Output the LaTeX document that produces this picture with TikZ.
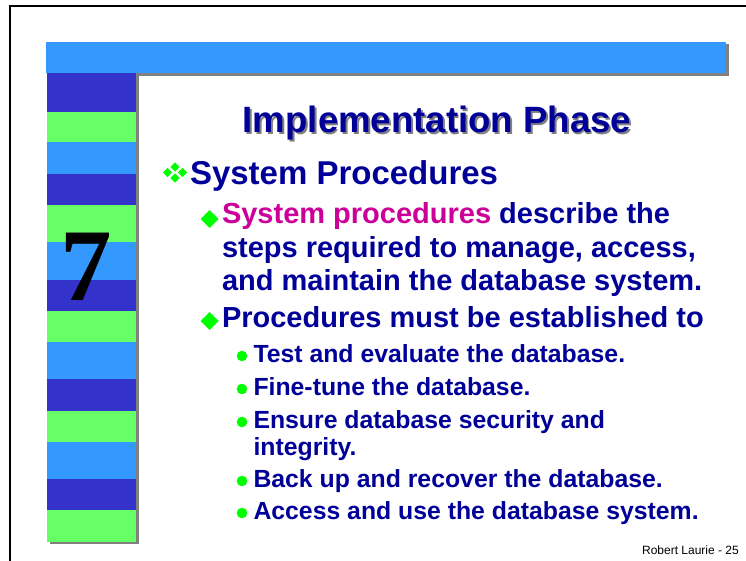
\documentclass[tikz,border=0pt]{standalone}
\usepackage{fontspec}
\usetikzlibrary{calc}
\setmainfont{Liberation Sans}
\newfontfamily\numfont{Liberation Serif}
\definecolor{darkstripe}{HTML}{3333CC}
\definecolor{greenstripe}{HTML}{66FF66}
\definecolor{lightstripe}{HTML}{3399FF}
\definecolor{navytext}{HTML}{000099}
\definecolor{magentatext}{HTML}{CC0099}
\definecolor{bulletgreen}{HTML}{00FF00}
\definecolor{shadowgray}{HTML}{808080}
\tikzset{
  txt/.style={anchor=base west, inner sep=0pt, outer sep=0pt, text=navytext, font=\bfseries},
  lvlone/.style={txt, font=\fontsize{33}{33}\selectfont\bfseries},
  lvltwo/.style={txt, font=\fontsize{29}{29}\selectfont\bfseries},
  lvlthree/.style={txt, font=\fontsize{24.8}{24.8}\selectfont\bfseries},
}
\begin{document}
\begin{tikzpicture}[x=1pt,y=-1pt]
\clip (0,0) rectangle (746,561);
\fill[white] (0,0) rectangle (746,561);
% outer frame
\draw[line width=2pt] (10,580) -- (10,6) -- (770,6);
% top bar with shadow
\fill[shadowgray] (48.5,44.5) rectangle (728.5,75.8);
\fill[lightstripe] (46,42) rectangle (725.7,73.3);
% vertical bar with shadow
\fill[shadowgray] (49.5,75.5) rectangle (138.5,544.2);
\foreach \a/\b/\c in {73.3/112/darkstripe,112/142/greenstripe,142/174/lightstripe,
  174/205/darkstripe,205/242/greenstripe,242/280/lightstripe,
  280/311/darkstripe,311/342/greenstripe,342/379/lightstripe,
  379/411/darkstripe,411/442/greenstripe,442/479/lightstripe,
  479/510/darkstripe,510/541.7/greenstripe}
  \fill[\c] (47,\a) rectangle (136,\b);
% number
\node[anchor=base, inner sep=0pt] (num) at (86,300) {\fontsize{103}{103}\selectfont\numfont\bfseries 7};
% title
\node[anchor=base, inner sep=0pt, text=shadowgray, font=\fontsize{36.6}{36.6}\selectfont\bfseries] (titleshadow) at (438.8,134.8) {Implementation Phase};
\node[anchor=base, inner sep=0pt, text=navytext, font=\fontsize{36.6}{36.6}\selectfont\bfseries] (title) at (437,133) {Implementation Phase};
% level 1 bullet (four diamonds)
\foreach \dx/\dy in {-7.5/0,7.5/0,0/-5.5,0/5.5}
  \fill[bulletgreen] ($(175,172.5)+(\dx,\dy)$) ++(-4.6,0) -- ++(4.6,-4.6) -- ++(4.6,4.6) -- ++(-4.6,4.6) -- cycle;
\node[lvlone] (l1) at (190,185) {System Procedures};
% level 2
\fill[bulletgreen] (200.5,219) -- (209.5,210) -- (218.5,219) -- (209.5,228) -- cycle;
\node[lvltwo] (l2a) at (222,223) {\textcolor{magentatext}{System procedures} describe the};
\node[lvltwo] (l2b) at (222,257) {steps required to manage, access,};
\node[lvltwo] (l2c) at (222,290) {and maintain the database system.};
\fill[bulletgreen] (200.5,321) -- (209.5,312) -- (218.5,321) -- (209.5,330) -- cycle;
\node[lvltwo] (l2d) at (222,327) {Procedures must be established to};
% level 3
\fill[bulletgreen] (242,356) circle (5.3);
\node[lvlthree] (l3a) at (253.5,362) {Test and evaluate the database.};
\fill[bulletgreen] (242,389) circle (5.3);
\node[lvlthree] (l3b) at (253.5,395) {Fine-tune the database.};
\fill[bulletgreen] (242,422) circle (5.3);
\node[lvlthree] (l3c) at (253.5,428) {Ensure database security and};
\node[lvlthree] (l3d) at (253.5,455) {integrity.};
\fill[bulletgreen] (242,481) circle (5.3);
\node[lvlthree] (l3e) at (253.5,487) {Back up and recover the database.};
\fill[bulletgreen] (242,513) circle (5.3);
\node[lvlthree] (l3f) at (253.5,519) {Access and use the database system.};
% footer
\node[anchor=base east, inner sep=0pt, font=\fontsize{12}{12}\selectfont] (footer) at (739,554) {Robert Laurie - 25};
\end{tikzpicture}
\end{document}
